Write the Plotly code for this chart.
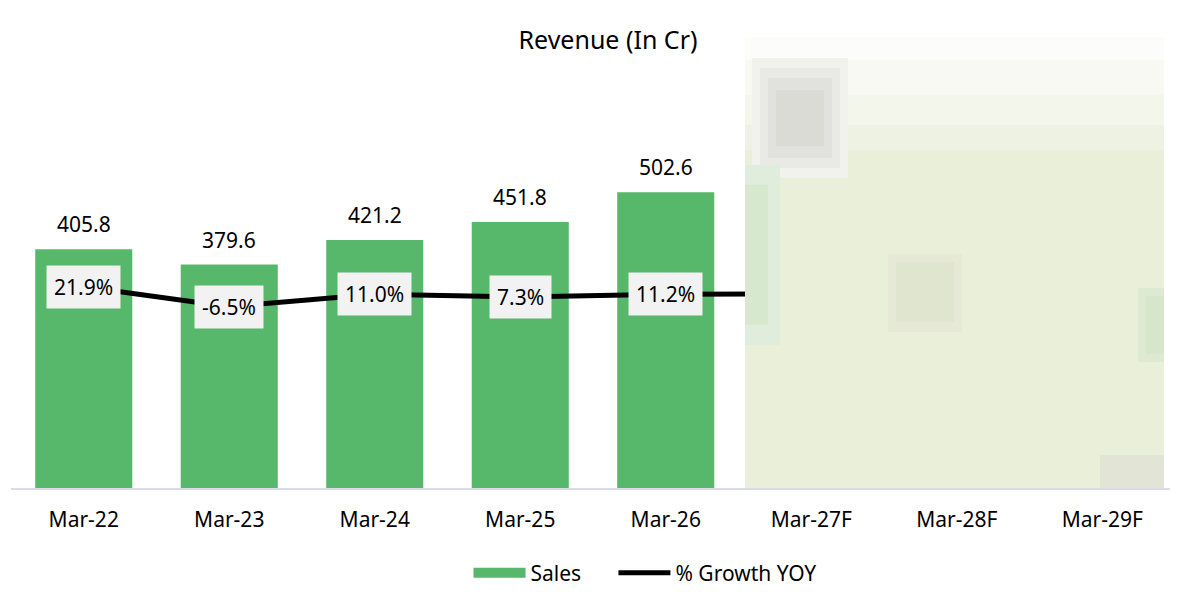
import plotly.graph_objects as go

# values
years = ['Mar-22', 'Mar-23', 'Mar-24', 'Mar-25', 'Mar-26', 'Mar-27F', 'Mar-28F', 'Mar-29F']
sales = [405.8, 379.6, 421.2, 451.8, 502.6, None, None, None]
growth = [21.9, -6.5, 11.0, 7.3, 11.2, 11.4, None, None]
growth_labels = ['21.9%', '-6.5%', '11.0%', '7.3%', '11.2%']
sales_labels = ['405.8', '379.6', '421.2', '451.8', '502.6']

FONT = 'Noto Sans'
GREEN = '#57b76b'
OFF = 8  # page body margin
W, H = 1178 - OFF, 606 - OFF
L, R, T, B = 3, 3, 68, 118

fig = go.Figure()

fig.add_trace(go.Bar(
    x=years, y=sales, name='Sales', showlegend=False,
    marker=dict(color=GREEN, line=dict(width=0)),
))

# legend entry for the bars drawn as a wide flat block
fig.add_trace(go.Scatter(
    x=[None], y=[None], name='Sales' + '\u00a0' * 5, mode='lines',
    line=dict(color=GREEN, width=13),
))

fig.add_trace(go.Scatter(
    x=years, y=growth, name='% Growth YOY', yaxis='y2',
    mode='lines', line=dict(color='black', width=5),
))

# sales value labels above bars
for x, v, t in zip(years, sales, sales_labels):
    fig.add_annotation(x=x, y=v, text=t, showarrow=False, yshift=25,
                       font=dict(family=FONT, size=21, color='black'))

# growth labels in grey boxes
for x, v, t in zip(years, growth, growth_labels):
    fig.add_annotation(x=x, y=v, yref='y2', text=t, showarrow=False,
                       bgcolor='#f2f2f2', borderpad=7,
                       font=dict(family=FONT, size=21, color='black'))


# blurred area covering the forecast years (reference pixel boxes)
def px_x(p):
    return (p - OFF - L) / (W - L - R)


def px_y(p):
    return (H - B - (p - OFF)) / (H - T - B)


blur = [
    (745, 1164, 37, 488, '#e9efd9'),
    (745, 1164, 37, 60, '#fcfcfa'),
    (745, 1164, 60, 95, '#f8f9f3'),
    (745, 1164, 95, 125, '#f3f6eb'),
    (745, 1164, 125, 150, '#eef2e2'),
    (752, 848, 58, 178, '#f1f1ee'),
    (760, 840, 68, 168, '#e9e9e5'),
    (768, 832, 78, 158, '#e1e2dd'),
    (776, 824, 90, 146, '#dadbd5'),
    (745, 780, 165, 345, '#e0ecdc'),
    (745, 768, 185, 325, '#d6e9cf'),
    (888, 962, 254, 332, '#e6e9d6'),
    (896, 954, 262, 322, '#e0e5d0'),
    (1138, 1164, 288, 362, '#dde9d1'),
    (1146, 1164, 296, 354, '#d6e6ca'),
    (1100, 1164, 455, 488, '#e2e4d6'),
]
for x0, x1, y0, y1, c in blur:
    fig.add_shape(type='rect', xref='paper', yref='paper',
                  x0=px_x(x0), x1=px_x(x1), y0=px_y(y1), y1=px_y(y0),
                  fillcolor=c, line=dict(width=0), layer='above')

fig.update_layout(
    width=W, height=H,
    margin=dict(l=L, r=R, t=T, b=B),
    paper_bgcolor='white', plot_bgcolor='white',
    font=dict(family=FONT, size=21, color='black'),
    title=dict(text='Revenue (In Cr)', x=(608 - OFF) / W, xanchor='center',
               y=1 - (40 - OFF) / H, yanchor='middle',
               font=dict(family=FONT, size=25, color='black')),
    bargap=0.333,
    showlegend=True,
    legend=dict(orientation='h', x=px_x(645), xanchor='center',
                y=px_y(573), yanchor='middle',
                font=dict(family=FONT, size=21, color='black'),
                itemwidth=52, tracegroupgap=0),
    xaxis=dict(showline=True, linecolor='#d9dde3', linewidth=2,
               ticks='outside', ticklen=12, tickcolor='rgba(0,0,0,0)',
               showgrid=False, tickfont=dict(size=21)),
    yaxis=dict(range=[0, 700], visible=False, showgrid=False),
    yaxis2=dict(range=[-264, 321], overlaying='y', side='right',
                visible=False, showgrid=False),
)

fig.write_html('out.html')
